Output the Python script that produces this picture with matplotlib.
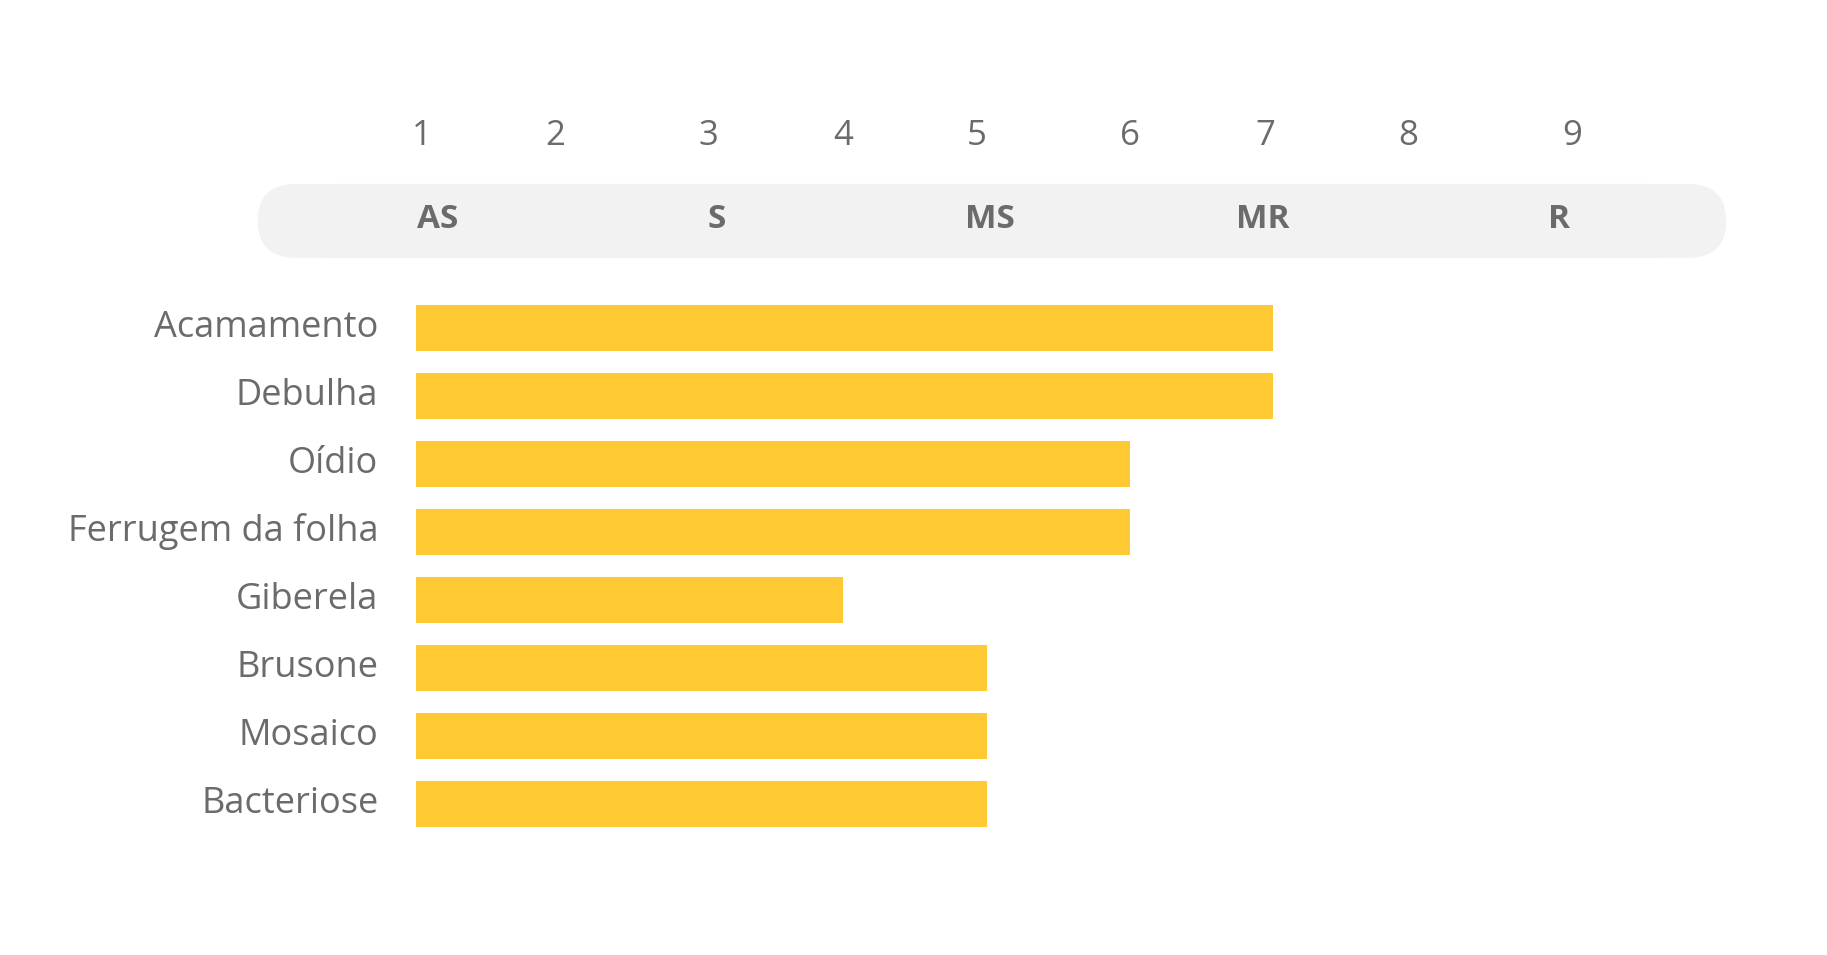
import matplotlib
matplotlib.use("Agg")
import matplotlib.pyplot as plt
from matplotlib.patches import FancyBboxPatch
import numpy as np

categories = ["Acamamento", "Debulha", "Oídio", "Ferrugem da folha", "Giberela", "Brusone", "Mosaico", "Bacteriose"]
values = [7, 7, 6, 6, 4, 5, 5, 5]
scale_ticks = [1, 2, 3, 4, 5, 6, 7, 8, 9]
classes = ["AS", "S", "MS", "MR", "R"]

# layout (display coordinates of a 1560x815 canvas)
tick_px = [360, 474, 605, 720, 843, 965, 1087, 1202, 1342]
num_px = [360, 474, 605, 720, 834, 965, 1080, 1202, 1342]
class_px = [374, 612, 845, 1078, 1331]
bar_start = 355
gray = "#6b6b6b"

W, H = 1560, 815
fig = plt.figure(figsize=(18.27, 9.55), dpi=100)
ax = fig.add_axes([0, 0, 1, 1])
ax.set_xlim(0, W); ax.set_ylim(H, 0); ax.axis("off")

def to_px(v):
    return np.interp(v, [0] + scale_ticks, [bar_start] + tick_px)

fam = ["Open Sans", "DejaVu Sans"]
for t, x in zip(scale_ticks, num_px):
    ax.text(x, 116, str(t), ha="center", va="center", fontsize=25, color=gray, family=fam)

ax.add_patch(FancyBboxPatch((252, 157), 1190, 63, boxstyle="round,pad=0,rounding_size=31.5",
                            fc="#f2f2f2", ec="none", mutation_aspect=1))
ax.add_patch(FancyBboxPatch((220, 157), 1254, 63, boxstyle="round,pad=0,rounding_size=32",
                            fc="#f2f2f2", ec="none"))
for c, x in zip(classes, class_px):
    ax.text(x, 187, c, ha="center", va="center", fontsize=24, fontweight="bold", color=gray, family=fam)

ys = 280 + 58 * np.arange(len(categories))
ax.barh(ys, [to_px(v) - bar_start for v in values], left=bar_start, height=39, color="#ffc933")
for c, y in zip(categories, ys):
    ax.text(323, y, c, ha="right", va="center", fontsize=26, color=gray, family=fam)

fig.savefig("out.png", dpi=100)
